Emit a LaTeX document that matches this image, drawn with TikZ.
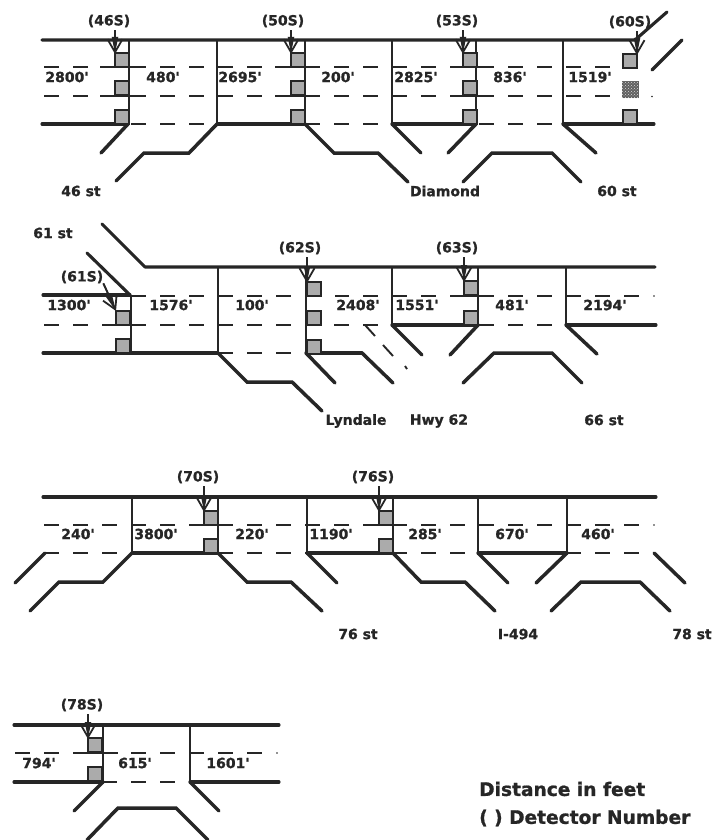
\documentclass[tikz,border=0pt]{standalone}
\usepackage{fontspec}
\newfontfamily\lblfont{DejaVu Sans}[BoldFeatures={FakeBold=1}]
\usetikzlibrary{arrows.meta,patterns}
\definecolor{ink}{HTML}{262626}
\definecolor{detfill}{HTML}{ABABAB}
\tikzset{
  road/.style={draw=ink,line width=3.1pt,line cap=round,line join=round},
  ramp/.style={draw=ink,line width=3.5pt,line cap=round,line join=miter},
  divider/.style={draw=ink,line width=2pt},
  lanedash/.style={draw=ink,line width=1.9pt,dash pattern=on 15pt off 14pt},
  lanesolid/.style={draw=ink,line width=1.9pt},
  gorestub/.style={draw=ink,line width=1.9pt},
  detector/.style={draw=ink,line width=1.8pt,fill=detfill,minimum width=14pt,minimum height=14pt,inner sep=0pt,outer sep=0pt},
  lbl/.style={text=ink,inner sep=0pt,font=\lblfont\bfseries\fontsize{14}{16}\selectfont},
  notelbl/.style={text=ink,inner sep=0pt,anchor=west,font=\lblfont\bfseries\fontsize{18.6}{21}\selectfont},
  detarrow/.style={draw=ink,line width=1.7pt,-{Straight Barb[length=13pt,width=15pt,line width=1.8pt]},
    postaction={draw=ink,-{Triangle[length=17pt,width=6pt]}}}
}
% dashes all share one phase; clipped to the stretch of lane given
\newcommand{\lanepiece}[3]{%
  \begin{scope}\clip (#2,#1-3) rectangle (#3,#1+3);
    \draw[lanedash] (15,#1) -- (690,#1);
  \end{scope}}
\begin{document}
\begin{tikzpicture}[x=1pt,y=-1pt]
\useasboundingbox (0,0) rectangle (713,840);
\fill[white] (0,0) rectangle (713,840);
% ---------- lanes
\lanepiece{67}{44}{612}
\lanepiece{96}{44}{612}
\lanepiece{124}{128}{217}
\lanepiece{124}{305}{392}
\lanepiece{124}{476}{563}
\foreach \a/\b in {100/143,275/320,450/492}{
  \draw[lanesolid] (\a,67) -- (\b,67);
  \draw[lanesolid] (\a,96) -- (\b,96);}
\fill[ink] (652,96.5) circle (0.9pt);
\lanepiece{296}{131}{305}
\lanepiece{296}{335}{378}
\lanepiece{296}{392}{642}
\lanepiece{325}{44}{305}
\lanepiece{325}{334}{378}
\lanepiece{325}{478}{566}
\lanepiece{353}{218}{305}
\draw[lanesolid] (103,325) -- (145,325);
\draw[lanesolid] (450,296) -- (493,296);
\fill[ink] (654,296) circle (0.9pt);
\lanepiece{525}{44}{642}
\lanepiece{553}{44}{131}
\lanepiece{553}{218}{307}
\lanepiece{553}{393}{478}
\lanepiece{553}{567}{642}
\draw[lanesolid] (190,525) -- (232,525);
\draw[lanesolid] (365,525) -- (407,525);
\fill[ink] (654,525) circle (0.9pt);
\lanepiece{753}{15}{59}
\lanepiece{753}{103}{265}
\draw[lanesolid] (73,753) -- (118,753);
\fill[ink] (277,753) circle (0.9pt);
\lanepiece{782}{103}{190}
\draw[gorestub] (365,325) -- (375,336);
\draw[gorestub] (383,345) -- (393,356);
\draw[gorestub] (405,366) -- (407,369);
% ---------- row 1 roads
\draw[road] (42,40) -- (635,40) -- (667,12);
\draw[road] (42,124) -- (128,124);
\draw[road] (217,124) -- (305,124);
\draw[road] (392,124) -- (476,124);
\draw[road] (563,124) -- (654,124);
\foreach \x in {129,217,305,392,476,563} \draw[divider] (\x,40) -- (\x,124);
\draw[ramp] (128,124) -- (101,153);
\draw[ramp] (217,124) -- (189,153) -- (144,153) -- (116,181);
\draw[ramp] (305,124) -- (334,153) -- (378,153) -- (408,182);
\draw[ramp] (392,124) -- (421,153);
\draw[ramp] (476,124) -- (448,153);
\draw[ramp] (463,182) -- (492,153) -- (552,153) -- (581,182);
\draw[ramp] (563,124) -- (596,153);
\draw[ramp] (652,70) -- (682,40);
% ---------- row 2 roads
\draw[road] (102,224) -- (145,267) -- (655,267);
\draw[road] (43,295) -- (130,295);
\draw[road] (87,253) -- (130,295);
\draw[road] (43,353) -- (218,353);
\draw[road] (306,353) -- (362,353);
\draw[road] (392,325) -- (478,325);
\draw[road] (566,325) -- (656,325);
\draw[divider] (131,295) -- (131,353);
\foreach \x in {218,306} \draw[divider] (\x,267) -- (\x,353);
\foreach \x in {392,478,566} \draw[divider] (\x,267) -- (\x,325);
\draw[ramp] (218,353) -- (247,382) -- (292,382) -- (322,411);
\draw[ramp] (306,353) -- (335,383);
\draw[ramp] (362,353) -- (393,383);
\draw[ramp] (392,325) -- (422,355);
\draw[ramp] (478,325) -- (450,355);
\draw[ramp] (463,383) -- (494,353) -- (552,353) -- (582,383);
\draw[ramp] (566,325) -- (597,354);
% ---------- row 3 roads
\draw[road] (43,497) -- (656,497);
\draw[road] (132,553) -- (218,553);
\draw[road] (307,553) -- (393,553);
\draw[road] (478,553) -- (567,553);
\foreach \x in {132,218,307,393,478,567} \draw[divider] (\x,497) -- (\x,553);
\draw[ramp] (15,583) -- (45,553);
\draw[ramp] (30,611) -- (59,582) -- (103,582) -- (132,553);
\draw[ramp] (218,553) -- (247,582) -- (291,582) -- (322,611);
\draw[ramp] (307,553) -- (337,583);
\draw[ramp] (393,553) -- (421,582) -- (465,582) -- (495,611);
\draw[ramp] (478,553) -- (508,583);
\draw[ramp] (567,553) -- (536,583);
\draw[ramp] (551,611) -- (581,582) -- (640,582) -- (670,611);
\draw[ramp] (654,553) -- (685,583);
% ---------- row 4 roads
\draw[road] (14,725) -- (279,725);
\draw[road] (14,782) -- (103,782);
\draw[road] (190,782) -- (279,782);
\foreach \x in {103,190} \draw[divider] (\x,725) -- (\x,782);
\draw[ramp] (103,782) -- (74,811);
\draw[ramp] (190,782) -- (219,811);
\draw[ramp] (87,840) -- (118,808) -- (176,808) -- (208,840);
% ---------- detectors
\foreach \n/\x/\y in {d46a/122/60,d46b/122/88,d46c/122/117,
  d50a/298/60,d50b/298/88,d50c/298/117,
  d53a/470/60,d53b/470/88,d53c/470/117,
  d60a/630/61,d60c/630/117,
  d61a/123/318,d61b/123/346,
  d62a/314/289,d62b/314/318,d62c/314/347,
  d63a/471/288,d63b/471/318,
  d70a/211/518,d70b/211/546,
  d76a/386/518,d76b/386/546,
  d78a/95/745,d78b/95/774}
  \node[detector] (\n) at (\x,\y) {};
\node[detector,fill=gray!75!black,minimum width=17pt,minimum height=17pt,draw=none,
      postaction={pattern=crosshatch dots,pattern color=white!70!gray}] (d60b) at (630,90) {};
% ---------- labels
\foreach \n/\x/\y/\t in {
  l46/109/21/(46S),l50/283/21/(50S),l53/457/21/(53S),l60/630/22/(60S),
  l61/82/277/(61S),l62/300/248/(62S),l63/457/248/(63S),
  l70/198/477/(70S),l76/373/477/(76S),l78/82/705/(78S),
  a1/67/77/2800',a2/163/77/480',a3/240/77/2695',a4/338/77/200',a5/416/77/2825',a6/510/77/836',a7/590/77/1519',
  b1/69/305/1300',b2/171/305/1576',b3/252/305/100',b4/358/305/2408',b5/417/305/1551',b6/512/305/481',b7/605/305/2194',
  c1/78/534/240',c2/156/534/3800',c3/252/534/220',c4/331/534/1190',c5/425/534/285',c6/512/534/670',c7/598/534/460',
  e1/39/763/794',e2/135/763/615',e3/228/763/1601',
  s1/81/191/46 st,s2/445/191/Diamond,s3/617/191/60 st,
  s4/53/233/61 st,s5/356/421/Lyndale,s6/439/421/Hwy 62,s7/604/420/66 st,
  s8/358/634/76 st,s9/518/634/I-494,s10/692/634/78 st}
  \node[lbl] (\n) at (\x,\y) {\t};
\node[notelbl] (n1) at (479,789) {Distance in feet};
\node[notelbl] (n2) at (479,818) {( ) Detector Number};
% ---------- detector arrows
\foreach \l/\d in {l46/d46a,l50/d50a,l53/d53a,l62/d62a,l63/d63a,l70/d70a,l76/d76a,l78/d78a}
  \draw[detarrow] ([yshift=-3pt]\l.south -| \d.north west) -- ([yshift=-1pt]\d.north west);
\draw[detarrow] ([yshift=-3pt]l60.south -| d60a.north east) -- ([yshift=-1pt]d60a.north east);
\draw[detarrow] (l61.south east) -- (d61a.north west);
\end{tikzpicture}
\end{document}
